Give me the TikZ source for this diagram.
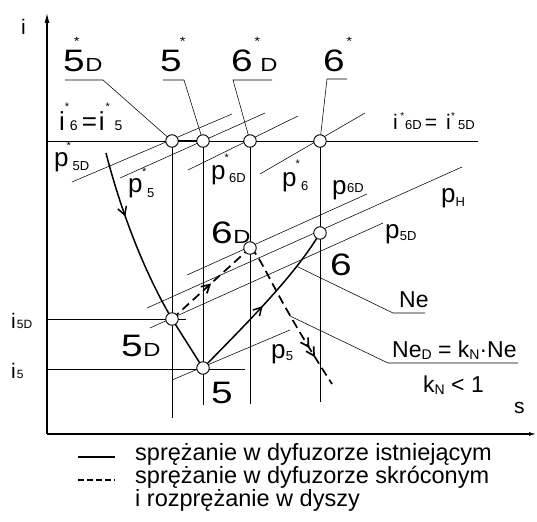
\documentclass[tikz,border=0pt]{standalone}
\usepackage{fontspec}
\setmainfont{Liberation Sans}
\newfontfamily\widefont[FakeStretch=1.25]{Liberation Sans}
\usetikzlibrary{arrows.meta,decorations.markings}
\newcommand{\fs}[1]{\fontsize{#1}{#1}\selectfont}
\newcommand{\Bst}{\raisebox{26.5pt}{\fs{12}*}}
\newcommand{\Sst}[1]{\raisebox{#1}{\fs{11}*}}
\tikzset{
  thinl/.style={line width=0.55pt},
  axis/.style={line width=1.1pt},
  proc/.style={line width=1.5pt},
  dproc/.style={line width=1.7pt, dash pattern=on 9pt off 5pt},
  pt/.style={circle, draw, fill=white, line width=0.9pt, minimum size=12.5pt, inner sep=0pt},
  txt/.style={inner sep=0pt, anchor=base west},
  bigl/.style={txt, font=\widefont\fs{31}},
  plab/.style={txt, font=\fs{26}},
  midl/.style={txt, font=\fs{23}},
  smal/.style={txt, font=\fs{21}},
  leg/.style={txt, font=\fs{23.5}},
  marrow/.style={postaction={decorate}, decoration={markings,
     mark=at position #1 with {\arrow{Straight Barb[length=8pt,width=9pt]}}}},
  mdarrow/.style={postaction={decorate}, decoration={markings,
     mark=at position #1 with {\arrow{Straight Barb[length=8pt,width=9pt]Straight Barb[length=8pt,width=9pt]}}}}
}
\begin{document}
\begin{tikzpicture}[x=1pt,y=-1pt]
\useasboundingbox (0,0) rectangle (537,521);
% key points
\coordinate (A5sD) at (172,141);
\coordinate (A5s) at (203,141);
\coordinate (A6sD) at (250,141);
\coordinate (A6s) at (320,141);
\coordinate (P5D) at (172,319);
\coordinate (P5) at (203,368);
\coordinate (P6D) at (250,248);
\coordinate (P6) at (320,233);
\coordinate (O) at (47,434);
\coordinate (Itop) at (47,13);
\coordinate (Sx) at (536,434);
% axes
\draw[axis,-{Latex[length=10pt,width=5pt]}] (O) -- (Itop);
\draw[axis,-{Latex[length=7pt,width=4pt]}] (O) -- (Sx);
% enthalpy lines
\coordinate (iL) at (47,141); \coordinate (iR) at (478,141);
\draw[thinl] (iL) -- (iR);
\draw[line width=1.1pt] (A5sD) -- (A5s);
\coordinate (i5DL) at (47,319); \coordinate (i5DR) at (186,319);
\coordinate (i5L) at (47,369); \coordinate (i5R) at (245,369);
\draw[thinl] (i5DL) -- (i5DR);
\draw[thinl] (i5L) -- (i5R);
% verticals
\coordinate (V1) at (172,418); \coordinate (V2) at (203,405);
\coordinate (V3) at (250,404); \coordinate (V4) at (320,402);
\draw[thinl] (A5sD) -- (V1);
\draw[thinl] (A5s) -- (V2);
\draw[thinl] (A6sD) -- (V3);
\draw[thinl] (A6s) -- (V4);
% isobars
\draw[thinl] (72,182) -- (232,114);
\draw[thinl] (120,178) -- (265,113);
\draw[thinl] (188,170) -- (298,116);
\draw[thinl] (260,174) -- (365,113);
\draw[thinl] (187,275) -- (367,194);
\draw[thinl] (147,308) -- (462,167);
\draw[thinl] (150,328) -- (383,223);
\draw[thinl] (172,380) -- (290,330);
% processes
\coordinate (Ptop) at (106,153);
\coordinate (Dend) at (332,384);
\draw[proc, marrow=0.37] (Ptop) .. controls (118,200) and (140,265) .. (P5D);
\draw[proc] (P5D) -- (P5);
\draw[proc, marrow=0.48] (P5) .. controls (250,320) and (295,275) .. coordinate[pos=0.74] (NeA) (P6);
\draw[dproc, marrow=0.5] (P5D) -- (P6D);
\draw[dproc, mdarrow=0.8] (P6D) .. controls (262,256) and (268,285) .. coordinate[pos=0.72] (NeB) (Dend);
% leaders
\coordinate (NeL) at (393,313); \coordinate (NeR) at (425,313);
\coordinate (NDL) at (388,363); \coordinate (NDR) at (518,363);
\draw[thinl] (NeA) -- (NeL) -- (NeR);
\draw[thinl] (NeB) -- (NDL) -- (NDR);
\coordinate (U1a) at (65,80); \coordinate (U1b) at (103,80);
\coordinate (U2a) at (163,80); \coordinate (U2b) at (184,80);
\coordinate (U3a) at (272,80); \coordinate (U3b) at (233,80);
\coordinate (U4a) at (347,79); \coordinate (U4b) at (327,79);
\draw[thinl] (U1a) -- (U1b) -- (A5sD);
\draw[thinl] (U2a) -- (U2b) -- (A5s);
\draw[thinl] (U3a) -- (U3b) -- (A6sD);
\draw[thinl] (U4a) -- (U4b) -- (A6s);
% state circles
\node[pt] (c5sD) at (A5sD) {};
\node[pt] (c5s) at (A5s) {};
\node[pt] (c6sD) at (A6sD) {};
\node[pt] (c6s) at (A6s) {};
\node[pt] (c5D) at (P5D) {};
\node[pt] (c5) at (P5) {};
\node[pt] (c6D) at (P6D) {};
\node[pt] (c6) at (P6) {};
% big labels
\node[bigl] (l5sD) at (63,72) {5\makebox[0pt][r]{\Bst\kern5pt}\kern0.5pt{\fs{19}D}};
\node[bigl] (l5s) at (160,72) {5\kern-2pt\Bst};
\node[bigl] (l6sD) at (231,72) {6\rlap{\kern1.5pt\Bst}\kern7.5pt{\fs{19}D}};
\node[bigl] (l6s) at (323,72) {6\kern1.5pt\Bst};
\node[bigl] (l5D) at (121,356) {5\kern0.5pt{\fs{19}D}};
\node[bigl] (l6D) at (211,243) {6\kern0.5pt{\fs{19}D}};
\node[bigl] (l5) at (211,403) {5};
\node[bigl] (l6) at (330,275) {6};
% enthalpy labels
\node[txt, font=\fs{26}] (li1) at (59,131) {i\rlap{\Sst{20pt}}\kern5pt{\fs{14}6}\kern4pt=\kern2pt i\rlap{\kern1pt\Sst{20pt}}\kern10pt{\fs{14}5}};
\node[txt, font=\fs{21}] (li2) at (393,130) {i\rlap{\kern2.5pt\raisebox{10pt}{\fs{10}*}}\kern7.3pt{\fs{13}6D}\kern3pt=\kern9pt i\rlap{\kern0.5pt\raisebox{10pt}{\fs{10}*}}\kern7.4pt{\fs{13}5D}};
\node[smal] (lI) at (21,35) {i};
\node[smal] (lS) at (514,413) {s};
\node[smal] (li5D) at (11,328) {i\kern1pt{\fs{12}5D}};
\node[smal] (li5) at (11,378) {i\kern1pt{\fs{12}5}};
% pressure labels
\node[plab] (lp5sD) at (54,167) {p\rlap{\kern-2pt\Sst{17pt}}\kern4pt\raisebox{-4pt}{\fs{13}5D}};
\node[plab] (lp5s) at (128,193) {p\rlap{\kern-0.5pt\Sst{17pt}}\kern4.5pt\raisebox{-5pt}{\fs{13}5}};
\node[plab] (lp6sD) at (211,180) {p\rlap{\kern-1pt\Sst{18pt}}\kern3.5pt\raisebox{-3pt}{\fs{13}6D}};
\node[plab] (lp6s) at (282,187) {p\rlap{\kern-1pt\Sst{19pt}}\kern4.5pt\raisebox{-3pt}{\fs{13}6}};
\node[plab] (lp6D) at (332,195) {p\kern0.5pt\raisebox{2pt}{\fs{13}6D}};
\node[plab] (lpH) at (441,203) {p\raisebox{-4pt}{\fs{13}H}};
\node[plab] (lp5D) at (385,238) {p\kern0.3pt\raisebox{-2pt}{\fs{13}5D}};
\node[plab] (lp5) at (271,358) {p\kern0.3pt\raisebox{-2pt}{\fs{13}5}};
% Ne labels
\node[midl] (lNe) at (399,307) {Ne};
\node[midl] (lNeD) at (392,357) {Ne\raisebox{-2pt}{\fs{14}D} = k\raisebox{-2pt}{\fs{14}N}·Ne};
\node[midl] (lk) at (423,392) {k\raisebox{-2pt}{\fs{14}N} < 1};
% legend
\coordinate (L1a) at (78,457); \coordinate (L1b) at (115,457);
\coordinate (L2a) at (78,480); \coordinate (L2b) at (115,480);
\draw[proc] (L1a) -- (L1b);
\draw[line width=1.7pt, dash pattern=on 6pt off 3pt] (L2a) -- (L2b);
\node[leg] (t1) at (135,460) {sprężanie w dyfuzorze istniejącym};
\node[leg] (t2) at (135,483) {sprężanie w dyfuzorze skróconym};
\node[leg] (t3) at (135,506) {i rozprężanie w dyszy};
\end{tikzpicture}
\end{document}
